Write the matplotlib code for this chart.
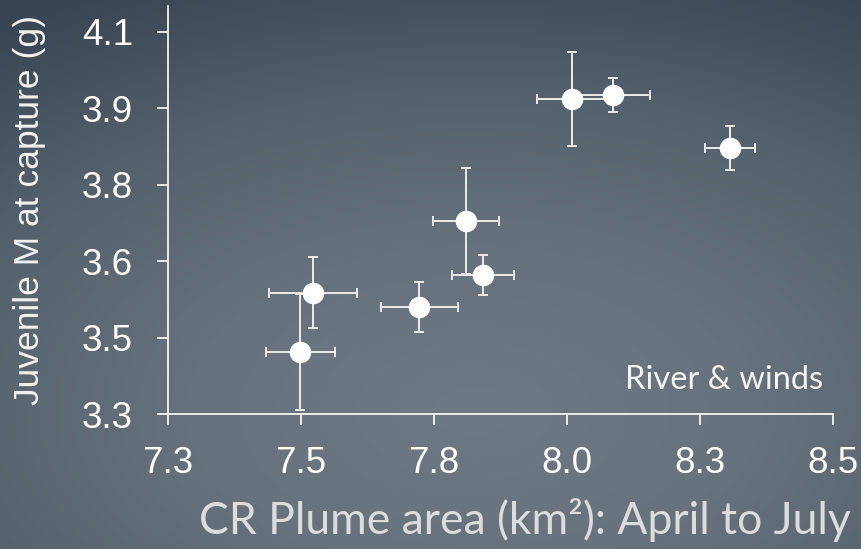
import numpy as np
import matplotlib.pyplot as plt
from matplotlib.colors import LinearSegmentedColormap

# ── Data ────────────────────────────────────────────────────────────────────
plume_area = [7.499, 7.523, 7.723, 7.810, 7.843, 8.010, 8.086, 8.307]
plume_err = [0.065, 0.083, 0.072, 0.062, 0.058, 0.067, 0.070, 0.047]
juv_mass = [3.421, 3.538, 3.510, 3.678, 3.572, 3.917, 3.926, 3.822]
mass_err = [0.114, 0.070, 0.049, 0.104, 0.039, 0.092, 0.033, 0.043]

x_ticks = [7.25, 7.5, 7.75, 8.0, 8.25, 8.5]
x_tick_labels = ["7.3", "7.5", "7.8", "8.0", "8.3", "8.5"]
y_ticks = [3.3, 3.45, 3.6, 3.75, 3.9, 4.05]
y_tick_labels = ["3.3", "3.5", "3.6", "3.8", "3.9", "4.1"]

# ── Figure + gradient background ────────────────────────────────────────────
fig = plt.figure(figsize=(8.61, 5.49), dpi=100)

bg = fig.add_axes([0, 0, 1, 1], zorder=0)
gx, gy = np.meshgrid(np.linspace(0, 1, 300), np.linspace(0, 1, 200))
dist = np.sqrt(((gx - 0.55) * 1.0) ** 2 + ((gy - 0.25) * 1.1) ** 2)
dist = np.clip(dist / 0.95, 0, 1)
cmap = LinearSegmentedColormap.from_list(
    "bg", ["#6e7983", "#67727c", "#55616c", "#394552"])
bg.imshow(dist, cmap=cmap, origin="lower", aspect="auto",
          extent=[0, 1, 0, 1], vmin=0, vmax=1)
bg.axis("off")

# ── Main axes ───────────────────────────────────────────────────────────────
ax = fig.add_axes([0.1948, 0.2459, 0.7727, 0.7431], zorder=1)
ax.patch.set_alpha(0)

ax.errorbar(plume_area, juv_mass, xerr=plume_err, yerr=mass_err,
            fmt="o", color="white", ms=14.5, mec="white",
            ecolor="#ececec", elinewidth=1.4, capsize=3.5, capthick=1.4,
            zorder=3)

ax.set_xlim(7.25, 8.5)
ax.set_ylim(3.3, 4.1)
ax.set_xticks(x_ticks)
ax.set_xticklabels(x_tick_labels)
ax.set_yticks(y_ticks)
ax.set_yticklabels(y_tick_labels)

for s in ["top", "right"]:
    ax.spines[s].set_visible(False)
for s in ["left", "bottom"]:
    ax.spines[s].set_color("white")
    ax.spines[s].set_linewidth(1.2)

ax.tick_params(axis="both", colors="white", length=8, width=1.2,
               labelsize=26.5, labelcolor="white")
ax.tick_params(axis="y", pad=17)
ax.tick_params(axis="x", pad=15)
for lbl in ax.get_xticklabels() + ax.get_yticklabels():
    lbl.set_family("Liberation Sans")

ax.set_ylabel("Juvenile M at capture (g)", fontsize=25.5, color="#f2f2f2",
              family="Liberation Sans", labelpad=26)

ax.text(0.985, 0.083, "River & winds", transform=ax.transAxes,
        ha="right", va="center", fontsize=23.5, color="#f4f4f4",
        family="Lato")

fig.text(0.988, 0.052, "CR Plume area (km²): April to July", ha="right",
         va="center", fontsize=32, color="#dcdcdc", family="Lato")

fig.savefig("out.png", dpi=100)
